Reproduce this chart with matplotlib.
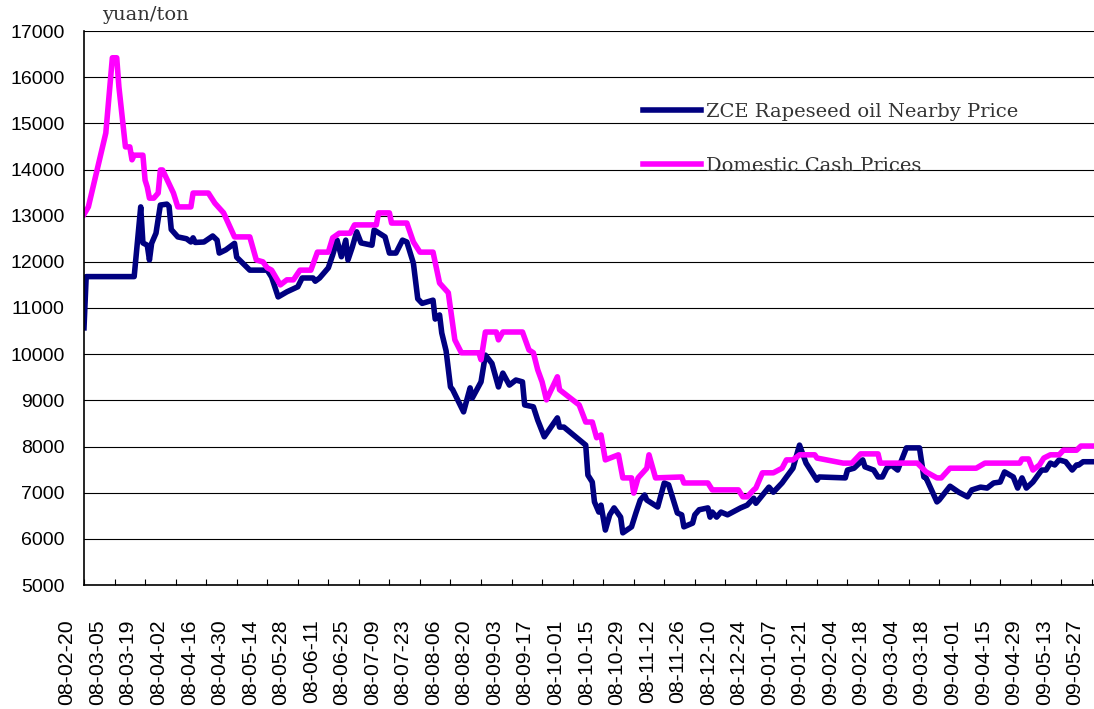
import matplotlib.pyplot as plt
import matplotlib.dates as mdates
import matplotlib.transforms as mtransforms
import numpy as np

# day offsets counted from 2008-02-20, values in yuan/ton
start = np.datetime64("2008-02-20")

zce_days = [0, 1, 23, 26, 27, 29, 30, 31, 33, 35, 38, 39, 40, 43, 47, 49, 50, 51, 55,
            59, 61, 62, 65, 67, 69, 70, 76, 84, 86, 89, 93, 98, 100, 105, 106, 108,
            112, 114, 116, 118, 120, 121, 123, 125, 127, 132, 133, 138, 140, 143, 146,
            148, 151, 153, 155, 160, 161, 163, 164, 166, 168, 169, 174, 177, 178, 182,
            184, 187, 190, 192, 195, 198, 201, 202, 206, 208, 211, 217, 218, 220, 230,
            231, 233, 234, 236, 237, 239, 241, 243, 246, 247, 251, 253, 255, 257, 258,
            263, 266, 268, 272, 274, 275, 279, 280, 282, 286, 287, 288, 290, 292, 295,
            301, 304, 307, 308, 314, 316, 320, 322, 325, 328, 331, 336, 337, 349, 350,
            353, 357, 358, 362, 364, 366, 368, 370, 373, 377, 383, 385, 386, 391, 392,
            397, 401, 405, 407, 411, 414, 417, 420, 422, 426, 428, 430, 432, 435, 439,
            441, 443, 445, 447, 450, 453, 455, 456, 458, 462]
zce_price = [10570, 11680, 11680, 13190, 12410, 12360, 12040, 12400, 12620, 13230,
             13250, 13200, 12700, 12540, 12500, 12430, 12520, 12420, 12430, 12560,
             12470, 12190, 12260, 12330, 12400, 12100, 11820, 11820, 11670, 11240,
             11350, 11460, 11650, 11650, 11580, 11650, 11870, 12150, 12470, 12110,
             12470, 12040, 12320, 12650, 12410, 12360, 12690, 12540, 12190, 12190,
             12470, 12430, 11970, 11200, 11100, 11170, 10760, 10850, 10460, 10070,
             9290, 9230, 8750, 9270, 9050, 9400, 9980, 9800, 9290, 9590, 9330, 9440,
             9400, 8900, 8860, 8570, 8210, 8620, 8420, 8420, 8030, 7380, 7230, 6800,
             6580, 6730, 6190, 6520, 6670, 6470, 6130, 6260, 6560, 6840, 6950, 6840,
             6690, 7210, 7170, 6560, 6520, 6260, 6340, 6520, 6630, 6670, 6470, 6580,
             6470, 6580, 6520, 6670, 6730, 6880, 6770, 7120, 7010, 7210, 7340, 7530,
             8030, 7640, 7270, 7340, 7320, 7490, 7530, 7710, 7560, 7490, 7340, 7340,
             7530, 7600, 7490, 7970, 7970, 7340, 7320, 6800, 6840, 7140, 7010, 6910,
             7060, 7120, 7100, 7210, 7230, 7450, 7340, 7100, 7320, 7100, 7230, 7490,
             7490, 7640, 7600, 7710, 7670, 7490, 7600, 7600, 7670, 7670]

cash_days = [0, 2, 6, 10, 13, 15, 16, 19, 21, 22, 23, 27, 28, 29, 30, 32, 34, 35, 36,
             41, 43, 49, 50, 57, 60, 64, 69, 76, 79, 82, 84, 86, 90, 93, 96, 99, 104,
             107, 112, 114, 117, 122, 124, 134, 135, 140, 141, 148, 151, 154, 160, 163,
             167, 170, 173, 181, 182, 184, 189, 190, 192, 201, 204, 206, 208, 210, 212,
             217, 218, 227, 230, 233, 235, 237, 239, 245, 247, 251, 252, 254, 258, 259,
             262, 274, 275, 286, 288, 300, 302, 304, 307, 308, 311, 316, 320, 322, 325,
             328, 335, 336, 348, 352, 356, 364, 365, 382, 386, 391, 393, 397, 409, 413,
             429, 430, 433, 435, 438, 440, 443, 447, 449, 455, 457, 462]
cash_price = [13030, 13190, 13990, 14790, 16420, 16420, 15790, 14490, 14490, 14210,
              14310, 14310, 13770, 13620, 13380, 13380, 13490, 13990, 13990, 13490,
              13190, 13190, 13490, 13490, 13270, 13060, 12540, 12540, 12040, 12000,
              11870, 11820, 11500, 11610, 11610, 11820, 11820, 12210, 12210, 12520,
              12620, 12620, 12800, 12800, 13060, 13060, 12840, 12840, 12430, 12210,
              12210, 11540, 11330, 10310, 10030, 10030, 9880, 10480, 10480, 10310,
              10480, 10480, 10090, 10030, 9660, 9400, 9010, 9510, 9230, 8900, 8530,
              8530, 8190, 8250, 7710, 7820, 7320, 7320, 6990, 7320, 7530, 7820, 7320,
              7340, 7210, 7210, 7060, 7060, 6910, 6910, 7060, 7100, 7430, 7430, 7530,
              7710, 7710, 7820, 7820, 7750, 7640, 7640, 7840, 7840, 7640, 7640, 7450,
              7320, 7320, 7530, 7530, 7640, 7640, 7730, 7730, 7490, 7600, 7750, 7820,
              7820, 7920, 7920, 8010, 8010]

zce_dates = start + np.array(zce_days, dtype="timedelta64[D]")
cash_dates = start + np.array(cash_days, dtype="timedelta64[D]")
tick_dates = start + np.arange(0, 463, 14).astype("timedelta64[D]")

fig = plt.figure(figsize=(10.94, 7.09), dpi=100)
ax = fig.add_axes([84 / 1094, 1 - 585 / 709, 1010 / 1094, 554 / 709])

ax.plot(zce_dates, zce_price, color="#000080", lw=4, label="ZCE Rapeseed oil Nearby Price")
ax.plot(cash_dates, cash_price, color="#FF00FF", lw=4, label="Domestic Cash Prices")

ax.set_ylim(5000, 17000)
ax.set_yticks(np.arange(5000, 17001, 1000))
ax.set_xlim(start, start + np.timedelta64(463, "D"))
ax.set_xticks(tick_dates)
ax.xaxis.set_major_formatter(mdates.DateFormatter("%y-%m-%d"))

ax.yaxis.grid(True, color="black", lw=0.8)
ax.set_axisbelow(True)
for s in ["top", "right"]:
    ax.spines[s].set_visible(False)
ax.spines["left"].set_linewidth(1.2)
ax.spines["bottom"].set_linewidth(1.2)

ax.tick_params(axis="y", length=0, pad=14, labelsize=14)
ax.tick_params(axis="x", direction="in", length=4, width=0.8, pad=25, labelsize=15.3,
               labelrotation=90)
for lab in ax.get_yticklabels():
    lab.set_fontfamily("Liberation Sans")
shift = mtransforms.ScaledTranslation(-17 / 100, 0, fig.dpi_scale_trans)
for lab in ax.get_xticklabels():
    lab.set_fontfamily("Liberation Sans")
    lab.set_verticalalignment("top")
    lab.set_transform(lab.get_transform() + shift)

fig.text(102 / 1094, 1 - 15 / 709, "yuan/ton", family="DejaVu Serif",
         fontsize=14, color="#333333", va="center", ha="left")

ax.legend(loc="upper left", bbox_to_anchor=(643 / 1094, 1 - 103 / 709),
          bbox_transform=fig.transFigure, frameon=False, borderpad=0, borderaxespad=0,
          handlelength=3.0, handletextpad=0.25, labelspacing=1.85,
          prop={"family": "DejaVu Serif", "size": 14})
for t in ax.get_legend().get_texts():
    t.set_color("#333333")

fig.savefig("out.png", dpi=100)
